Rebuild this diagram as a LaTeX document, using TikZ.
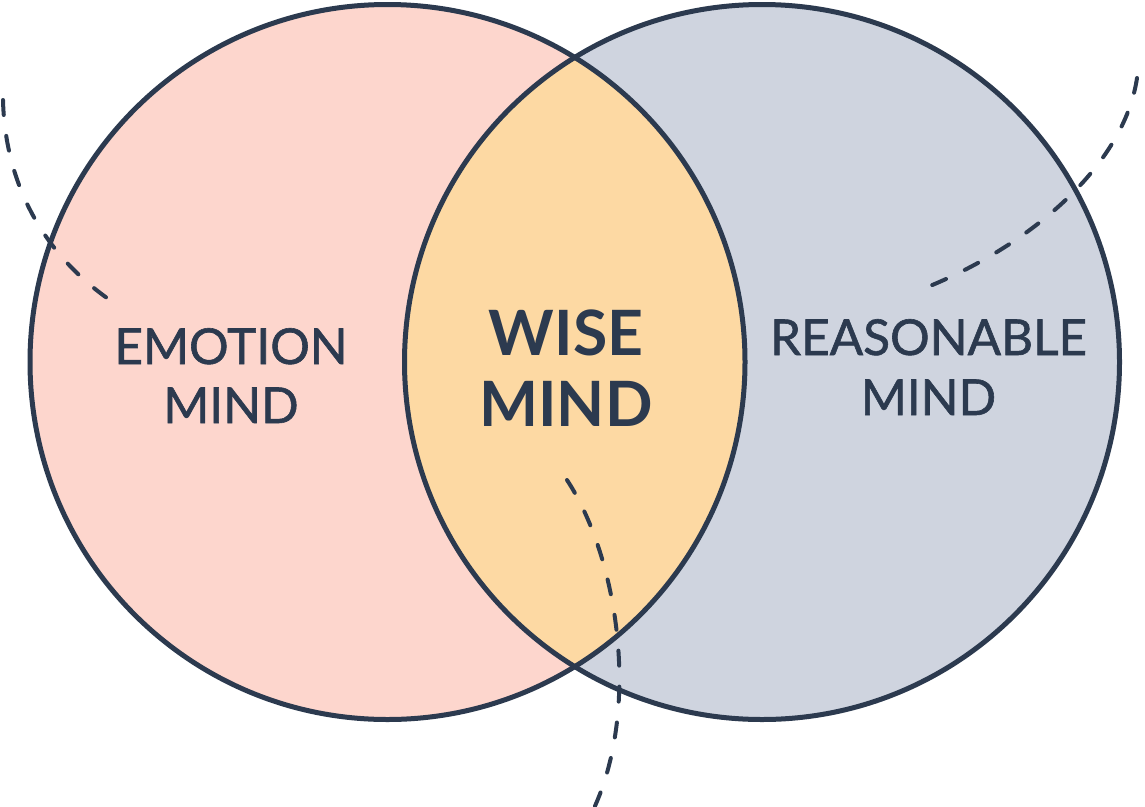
\documentclass[tikz,border=0pt]{standalone}
\usepackage{fontspec}
\setmainfont{Lato}
\newfontfamily\labelfont{Lato}[FakeBold=1.2]
\definecolor{navy}{HTML}{2C3A4F}
\definecolor{pinkfill}{HTML}{FDD6CD}
\definecolor{grayfill}{HTML}{CFD4DF}
\definecolor{orangefill}{HTML}{FDD9A3}
\tikzset{
  ring/.style={draw=navy, line width=5pt},
  dashcurve/.style={draw=navy, line width=4pt, line cap=round, dash pattern=on 15pt off 21pt},
  sidelabel/.style={text=navy, anchor=base, inner sep=0pt, font=\labelfont\fontsize{49.5}{59}\selectfont},
  wiselabel/.style={text=navy, anchor=base, inner sep=0pt, font=\fontsize{62.5}{71}\selectfont\bfseries}
}
\begin{document}
\begin{tikzpicture}[x=1pt,y=-1pt]
\useasboundingbox (0,0) rectangle (1145,806);
\coordinate (cl) at (387.5,362);
\coordinate (cr) at (762,362);
\fill[pinkfill] (cl) circle (357.5);
\fill[grayfill] (cr) circle (357.5);
\begin{scope}
  \clip (cl) circle (357.5);
  \fill[orangefill] (cr) circle (357.5);
\end{scope}
\draw[ring] (cl) circle (357.5);
\draw[ring] (cr) circle (357.5);
% dashed curves
\coordinate (la) at (3,100);
\coordinate (lb) at (107,298);
\draw[dashcurve] (la) .. controls (5,180) and (40,250) .. (lb);
\coordinate (ra) at (1137,78);
\coordinate (rb) at (930,286);
\draw[dashcurve] (ra) .. controls (1125,160) and (1040,240) .. (rb);
\coordinate (ba) at (567,480);
\coordinate (bb) at (595,806);
\draw[dashcurve] (ba) .. controls (618,558) and (640,705) .. (bb);
% labels
\node[sidelabel] (emo1) at (231,364) {EMOTION};
\node[sidelabel] (emo2) at (231,423) {MIND};
\node[wiselabel] (wise1) at (566,355) {WISE};
\node[wiselabel] (wise2) at (566,426) {MIND};
\node[sidelabel] (rea1) at (928.5,355) {REASONABLE};
\node[sidelabel] (rea2) at (928.5,415) {MIND};
\end{tikzpicture}
\end{document}
